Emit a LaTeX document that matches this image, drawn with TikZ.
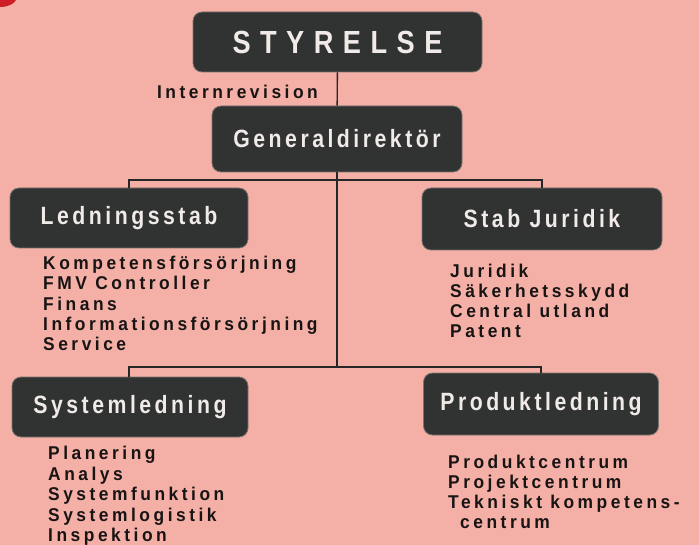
\documentclass[tikz,border=0pt]{standalone}
\usepackage{fontspec}
\usepackage{xcolor}
\usepackage{tikz}
\newfontfamily\orgfont[FakeStretch=0.85,LetterSpace=14]{Liberation Sans}
\newfontfamily\listfont[FakeStretch=0.94,LetterSpace=19]{Liberation Sans}
\definecolor{rosa}{RGB}{244,176,166}
\definecolor{boxgray}{RGB}{48,51,49}
\definecolor{boxedge}{RGB}{120,116,112}
\definecolor{boxtext}{RGB}{240,234,232}
\definecolor{listtext}{RGB}{24,20,20}
\definecolor{logored}{RGB}{205,30,40}

\begin{document}
\begin{tikzpicture}[x=1pt,y=-1pt,
    box/.style={rounded corners=9pt,fill=boxgray,draw=boxedge,line width=0.8pt,text=boxtext,
      font=\orgfont\bfseries\fontsize{25}{27}\selectfont,inner sep=0pt},
    items/.style={anchor=north west,align=left,inner sep=0pt,text=listtext,
      font=\listfont\bfseries\fontsize{18.5}{#1}\selectfont},
    items/.default=20,
    conn/.style={line width=1.4pt,draw=black!85}]
        \useasboundingbox (0,0) rectangle (699,545);
        \fill[rosa] (0,0) rectangle (699,545);
        \fill[logored] (0,0) -- (16,0) .. controls (14,4) and (8,7) .. (0,7) -- cycle;
        % boxes
        \node[box,minimum width=289pt,minimum height=60pt] (sty) at (337.5,42)
          {\addfontfeature{LetterSpace=6}\fontsize{32}{34}\selectfont S T Y R E L S E};
        \node[box,minimum width=250pt,minimum height=66pt] (gd) at (337,139) {Generaldirektör};
        \node[box,minimum width=238pt,minimum height=60pt] (led) at (129,218) {Ledningsstab};
        \node[box,minimum width=240pt,minimum height=62pt] (jur) at (542,219) {Stab Juridik};
        \node[box,minimum width=236pt,minimum height=60pt] (sys) at (130,407) {Systemledning};
        \node[box,minimum width=235pt,minimum height=62pt] (prod) at (541,404) {Produktledning};
        \node[items,anchor=east] (rev) at (318,92) {Internrevision};
        % lines
        \coordinate (upper) at (337,180);
        \coordinate (lower) at (337,367);
        \draw[conn] (sty) -- (gd);
        \draw[conn] (gd) -- (lower);
        \draw[conn] (led.north) |- (upper) -| (jur.north);
        \draw[conn] (sys.north -| led.north) |- (lower) -| (prod.north);
        % lists
        \node[items=20.3] (ledlist) at (43,256)
          {Kompetensförsörjning\\FMV Controller\\Finans\\Informationsförsörjning\\Service};
        \node[items=20] (jurlist) at (450,264)
          {Juridik\\Säkerhetsskydd\\Central utland\\Patent};
        \node[items=20.5] (syslist) at (48,446)
          {Planering\\Analys\\Systemfunktion\\Systemlogistik\\Inspektion};
        \node[items=20] (prodlist) at (448,455)
          {Produktcentrum\\Projektcentrum\\Tekniskt kompetens-\\\hspace*{12pt}centrum};
      \end{tikzpicture}
\end{document}
